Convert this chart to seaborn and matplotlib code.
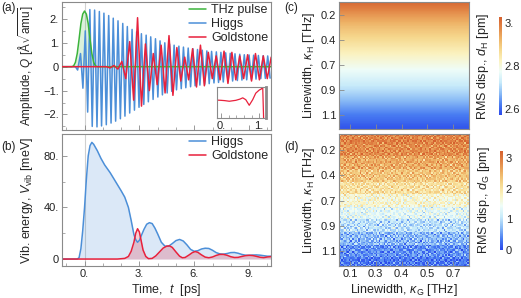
import numpy as np
import pandas as pd
import seaborn as sns
import matplotlib
matplotlib.use("Agg")
import matplotlib.pyplot as plt
from matplotlib.colors import LinearSegmentedColormap

# ---- (a) 振幅: 極値の時刻と値 ----
thz_t = [-1.3, -0.7, -0.6, -0.5, -0.4, -0.3, -0.2, -0.1, 0.0, 0.1, 0.2, 0.3, 0.4, 0.5, 0.6, 0.7, 10.3]
thz_q = [0, 0, 0.03, 0.18, 0.55, 1.15, 1.8, 2.2, 2.33, 2.2, 1.8, 1.15, 0.55, 0.18, 0.03, 0, 0]

higgs_t = [-1.3, -0.5, -0.38, -0.22,
           -0.09, 0.04, 0.17, 0.29, 0.42, 0.55, 0.68, 0.81, 0.93, 1.06,
           1.19, 1.32, 1.45, 1.57, 1.70, 1.83, 1.96, 2.09, 2.21, 2.34,
           2.47, 2.60, 2.73, 2.85, 2.98, 3.11, 3.24, 3.37, 3.49, 3.62,
           3.75, 3.88, 4.01, 4.13, 4.26, 4.39, 4.52, 4.65, 4.77, 4.90,
           5.03, 5.16, 5.29, 5.41, 5.54, 5.67, 5.80, 5.93, 6.05, 6.18,
           6.31, 6.44, 6.57, 6.69, 6.82, 6.95, 7.08, 7.21, 7.33, 7.46,
           7.59, 7.72, 7.85, 7.97, 8.10, 8.23, 8.36, 8.49, 8.61, 8.74,
           8.87, 9.00, 9.13, 9.25, 9.38, 9.51, 9.64, 9.77, 9.89, 10.02,
           10.15]
higgs_q = [0, 0, -0.14, 0.55,
           -0.9, 1.5, -1.9, 2.39, -2.5, 2.37, -2.52, 2.31, -2.48, 2.24,
           -2.43, 2.14, -2.36, 2.03, -2.28, 1.92, -2.18, 1.81, -2.07, 1.68,
           -1.94, 1.56, -1.82, 1.46, -1.70, 1.38, -1.58, 1.32, -1.47, 1.25,
           -1.37, 1.17, -1.27, 1.08, -1.18, 1.00, -1.10, 0.95, -1.03, 0.90,
           -0.97, 0.86, -0.92, 0.82, -0.88, 0.78, -0.84, 0.75, -0.80, 0.72,
           -0.77, 0.69, -0.74, 0.66, -0.71, 0.64, -0.68, 0.62, -0.66, 0.60,
           -0.64, 0.58, -0.62, 0.56, -0.60, 0.54, -0.58, 0.52, -0.56, 0.50,
           -0.55, 0.49, -0.53, 0.48, -0.52, 0.47, -0.50, 0.46, -0.49, 0.45,
           -0.48]

gold_t = [-1.3, 1.2,
          1.395, 1.61, 1.825, 2.04, 2.255, 2.47, 2.685, 2.90, 3.115, 3.33,
          3.545, 3.76, 3.975, 4.19, 4.405, 4.62, 4.835, 5.05, 5.265, 5.48,
          5.695, 5.91, 6.125, 6.34, 6.555, 6.77, 6.985, 7.2, 7.415, 7.63,
          7.845, 8.06, 8.275, 8.49, 8.705, 8.92, 9.135, 9.35, 9.565, 9.78,
          9.995, 10.21]
gold_q = [0, 0,
          -0.05, 0.05, -0.1, 0.22, -0.5, 1.05, -1.4, 2.05, -1.65, 0.95,
          -1.0, 0.55, -0.75, 0.9, -1.1, 1.3, -1.2, 0.8, -0.6, 0.4,
          -0.55, 0.75, -0.85, 0.9, -0.8, 0.6, -0.5, 0.45, -0.55, 0.65,
          -0.7, 0.6, -0.55, 0.45, -0.5, 0.5, -0.6, 0.55, -0.55, 0.45,
          -0.5, 0.4]

# インセット (初期のGoldstone)
ins_t = [-0.15, 0.0, 0.1, 0.22, 0.39, 0.5, 0.57, 0.65, 0.74, 0.83, 0.91, 1.0, 1.06, 1.09, 1.12, 1.2]
ins_v = [0.59, 0.58, 0.57, 0.55, 0.58, 0.62, 0.66, 0.6, 0.42, 0.6, 0.81, 0.91, 0.95, 1.1, -0.2, -0.2]

# ---- (b) 振動エネルギー [meV] ----
eh_t = [-1.3, -0.4, -0.3, -0.2, -0.1, 0.0, 0.1, 0.2, 0.3, 0.4, 0.5, 0.7, 0.9, 1.1,
        1.4, 1.7, 2.0, 2.2, 2.4, 2.55, 2.7, 2.8, 2.9, 3.0, 3.1, 3.25, 3.4, 3.55,
        3.7, 3.85, 4.0, 4.2, 4.4, 4.6, 4.8, 5.0, 5.2, 5.4, 5.6, 5.8, 6.0, 6.2,
        6.4, 6.6, 6.8, 7.0, 7.2, 7.4, 7.6, 7.8, 8.0, 8.2, 8.4, 8.6, 8.8, 9.0,
        9.2, 9.4, 9.6, 9.8, 10.0, 10.3]
eh_v = [0, 0, 1, 8, 22, 40, 62, 80, 88, 90.5, 89, 84, 78, 73,
        67, 60, 53, 48, 40, 30, 19, 15, 13, 14.5, 18, 23, 27, 28.2,
        27.5, 24, 19.5, 13, 10, 10, 12, 14.3, 15.2, 14, 11, 7.5, 6, 6.5,
        7.8, 8.4, 8.2, 6.8, 5, 4, 3.8, 4.3, 5, 5.1, 4.5, 3.6, 3, 2.9,
        3.1, 3.2, 3, 2.6, 2.2, 2.2]
eg_t = [-1.3, 1.8, 2.2, 2.4, 2.55, 2.7, 2.8, 2.9, 3.0, 3.1, 3.2, 3.35, 3.5, 3.7,
        3.9, 4.1, 4.3, 4.5, 4.65, 4.8, 5.0, 5.2, 5.35, 5.5, 5.7, 5.9, 6.05, 6.2,
        6.4, 6.6, 6.8, 7.0, 7.2, 7.4, 7.6, 7.8, 8.0, 8.2, 8.4, 8.6, 8.8, 9.0,
        9.2, 9.4, 9.6, 9.8, 10.0, 10.3]
eg_v = [0, 0, 0.5, 2, 6, 13, 20, 23.5, 21, 14, 7, 2, 0.3, 0.5,
        2.5, 5.5, 8.5, 10, 10.2, 9, 5.5, 2.2, 1, 1.2, 3, 5, 5.8, 5.2,
        3.2, 1.5, 1, 1.6, 2.8, 3.6, 3.6, 2.9, 1.8, 1.2, 1.3, 2, 2.6, 2.9,
        2.7, 2.1, 1.4, 1.1, 1.6, 2]

# ---- (c),(d) 線幅マップ ----
kappa_h_labels = ["0.2", "0.4", "0.7", "0.9", "1.1"]
kappa_g_labels = ["0.1", "0.3", "0.4", "0.5", "0.7"]
dh_rows = [3.02, 2.96, 2.91, 2.87, 2.83, 2.79, 2.75, 2.71, 2.665, 2.62, 2.585]
dg_rows = [2.9, 2.8, 2.55, 2.3, 2.0, 1.65, 1.3, 1.0, 0.7, 0.45, 0.3]
# 散らばり (手入力の揺らぎタイル, 単位0.08 pm)
dg_tile = [
    [1, -2, 3, 0, -1, 2, -3, 1, 4, -2, 0, 2, -1],
    [-3, 0, 2, -1, 3, -2, 1, -4, 0, 2, -1, 3, 1],
    [2, 4, -1, -3, 0, 1, 3, 2, -2, -1, 4, -3, 0],
    [-1, 1, -4, 2, 3, -1, 0, -2, 3, 1, -3, 0, 2],
    [0, -3, 1, 4, -2, 0, -1, 3, -1, -4, 2, 1, -2],
    [3, 2, -2, 0, 1, -4, 2, 0, 1, 3, -2, -1, 4],
    [-2, 0, 3, -3, 2, 3, -2, 1, -3, 0, 1, 4, -1],
    [1, -1, 0, 2, -4, 1, 4, -3, 2, -2, 3, -2, 0],
    [4, -2, 1, -1, 0, -3, 0, 2, 1, 4, -1, 0, -3],
    [-1, 3, -3, 1, 2, 2, -1, -2, 0, -3, 0, 2, 3],
    [0, 1, 2, -2, -3, 0, 3, -1, -4, 1, 2, -4, 1],
]

a_yticks = [-2, -1, 0, 1, 2]
a_yticklabels = ["\u22122.", "\u22121.", "0", "1.", "2."]
b_yticks = [0, 40, 80]
b_yticklabels = ["0", "40.", "80."]
b_xticks = [0, 3, 6, 9]
b_xticklabels = ["0.", "3.", "6.", "9."]
dh_cticks = [2.6, 2.8, 3.0]
dh_cticklabels = ["2.6", "2.8", "3."]
dg_cticks = [0, 1, 2, 3]
dg_cticklabels = ["0", "1", "2", "3"]

C_THZ = "#3cb43c"
C_HIGGS = "#4c8fd8"
C_GOLD = "#e8213c"
C_FRAME = "#8a8a8a"

temp_cmap = LinearSegmentedColormap.from_list(
    "temp", ["#2a48ea", "#4a7ef2", "#8bbcf6", "#c8ebfa", "#effdf8",
             "#fbf2bf", "#f6d88e", "#eeb266", "#e28646", "#d5602f"])

sns.set_theme(style="ticks")
plt.rcParams["font.family"] = ["Liberation Sans", "DejaVu Sans"]
plt.rcParams["mathtext.fontset"] = "custom"
plt.rcParams["mathtext.rm"] = "Liberation Sans"
plt.rcParams["mathtext.it"] = "Liberation Sans:italic"
plt.rcParams["mathtext.bf"] = "Liberation Sans:bold"

W, H = 521, 298
fig = plt.figure(figsize=(W / 100, H / 100), dpi=100)


def box(l, t, r, b):
    return [l / W, 1 - b / H, (r - l) / W, (b - t) / H]


def frame(ax):
    for s in ax.spines.values():
        s.set_color(C_FRAME)
        s.set_linewidth(0.8)
    ax.tick_params(which="major", direction="in", length=3.5, width=0.6,
                   color=C_FRAME, labelsize=8, labelcolor="#222222", pad=2)
    ax.tick_params(which="minor", direction="in", length=2, width=0.5, color=C_FRAME)
    ax.grid(False)


XLIM = (-1.25, 10.2)
LBL = 9

# ---- (a) ----
ax_a = fig.add_axes(box(61.7, 1.7, 271, 130))
ax_a.axvline(0, color="#d0d0d0", lw=0.8, zorder=0)
ax_a.fill_between(higgs_t, higgs_q, 0, color=C_HIGGS, alpha=0.25, lw=0)
ax_a.fill_between(thz_t, thz_q, 0, color=C_THZ, alpha=0.18, lw=0)
df_h = pd.DataFrame({"t": higgs_t, "q": higgs_q})
df_g = pd.DataFrame({"t": gold_t, "q": gold_q})
df_p = pd.DataFrame({"t": thz_t, "q": thz_q})
sns.lineplot(data=df_h, x="t", y="q", ax=ax_a, color=C_HIGGS, lw=1.1, label="Higgs", estimator=None, zorder=2)
sns.lineplot(data=df_p, x="t", y="q", ax=ax_a, color=C_THZ, lw=1.1, label="THz pulse", estimator=None, zorder=3)
sns.lineplot(data=df_g, x="t", y="q", ax=ax_a, color=C_GOLD, lw=1.1, label="Goldstone", estimator=None, zorder=4)
ax_a.set_xlim(*XLIM)
ax_a.set_ylim(-2.65, 2.72)
frame(ax_a)
ax_a.set_yticks(a_yticks)
ax_a.set_yticklabels(a_yticklabels)
ax_a.set_yticks([-2.5, -1.5, -0.5, 0.5, 1.5, 2.5], minor=True)
ax_a.set_xticks(b_xticks)
ax_a.set_xticks([-1, 1, 2, 4, 5, 7, 8, 10], minor=True)
ax_a.set_xticklabels([])
ax_a.set_xlabel("")
ax_a.set_ylabel(r"Amplitude, $Q$ [Å$\sqrt{\mathrm{amu}}$]", fontsize=8.5, labelpad=5)
hd, lb = ax_a.get_legend_handles_labels()
order = [lb.index("THz pulse"), lb.index("Higgs"), lb.index("Goldstone")]
ax_a.legend([hd[i] for i in order], [lb[i] for i in order], loc="upper right",
            frameon=False, fontsize=LBL, handlelength=1.4, handletextpad=0.4,
            labelspacing=0.15, borderaxespad=0.1, borderpad=0.1)

# inset
ax_in = fig.add_axes(box(216.7, 87.3, 265.7, 118.3))
ax_in.set_facecolor("white")
ax_in.plot(ins_t, ins_v, color=C_GOLD, lw=0.9)
ax_in.set_xlim(-0.11, 1.17)
ax_in.set_ylim(0, 1)
frame(ax_in)
ax_in.spines["right"].set_linewidth(2)
ax_in.set_xticks([0, 1])
ax_in.set_xticklabels(["0.", "1."])
ax_in.set_xticks([0.2, 0.4, 0.6, 0.8], minor=True)
ax_in.set_yticks([])
ax_in.tick_params(labelsize=8, pad=2)

# ---- (b) ----
ax_b = fig.add_axes(box(61.7, 134, 271, 266))
ax_b.axvline(0, color="#d0d0d0", lw=0.8, zorder=0)
ax_b.fill_between(eh_t, eh_v, 0, color=C_HIGGS, alpha=0.2, lw=0)
ax_b.fill_between(eg_t, eg_v, 0, color=C_GOLD, alpha=0.22, lw=0)
df_eh = pd.DataFrame({"t": eh_t, "v": eh_v})
df_eg = pd.DataFrame({"t": eg_t, "v": eg_v})
sns.lineplot(data=df_eh, x="t", y="v", ax=ax_b, color=C_HIGGS, lw=1.1, label="Higgs", estimator=None)
sns.lineplot(data=df_eg, x="t", y="v", ax=ax_b, color=C_GOLD, lw=1.1, label="Goldstone", estimator=None)
ax_b.set_xlim(*XLIM)
ax_b.set_ylim(-5.4, 97)
frame(ax_b)
ax_b.set_yticks(b_yticks)
ax_b.set_yticklabels(b_yticklabels)
ax_b.set_yticks([20, 60], minor=True)
ax_b.set_xticks(b_xticks)
ax_b.set_xticklabels(b_xticklabels)
ax_b.set_xticks([-1, 1, 2, 4, 5, 7, 8, 10], minor=True)
ax_b.set_xlabel(r"Time,  $t$  [ps]", fontsize=LBL, labelpad=2)
ax_b.set_ylabel(r"Vib. energy, $V_{\mathrm{vib}}$ [meV]", fontsize=LBL, labelpad=6)
ax_b.legend(loc="upper right", frameon=False, fontsize=LBL, handlelength=1.4,
            handletextpad=0.4, labelspacing=0.15, borderaxespad=0.1, borderpad=0.1)

# ---- (c) ----
ax_c = fig.add_axes(box(339, 1.7, 469, 129))
col = np.array(dh_rows)[:, None]
im_c = ax_c.imshow(col, cmap=temp_cmap, vmin=2.57, vmax=3.03, aspect="auto",
                   interpolation="bilinear", extent=(-0.6, 4.8, 4.75, -0.75))
ax_c.set_xlim(-0.43, 4.62)
ax_c.set_ylim(4.56, -0.53)
frame(ax_c)
ax_c.set_yticks(range(len(kappa_h_labels)))
ax_c.set_yticklabels(kappa_h_labels)
ax_c.set_xticks(range(len(kappa_g_labels)))
ax_c.set_xticklabels([])
ax_c.set_ylabel(r"Linewidth, $\kappa_{\mathrm{H}}$ [THz]", fontsize=LBL, labelpad=3)

cax_c = fig.add_axes(box(499, 16.7, 502, 115.3))
cb_c = fig.colorbar(im_c, cax=cax_c)
cb_c.outline.set_visible(False)
cb_c.set_ticks(dh_cticks)
cb_c.set_ticklabels(dh_cticklabels)
cax_c.tick_params(length=0, labelsize=8, pad=2)
cax_c.yaxis.set_label_position("left")
cax_c.set_ylabel(r"RMS disp., $d_{\mathrm{H}}$ [pm]", fontsize=LBL, labelpad=6)

# ---- (d) ----
ax_d = fig.add_axes(box(339, 134, 469, 266))
rep = 8
prof = np.repeat(np.array(dg_rows), rep)[:, None]
n = len(prof)
tile_a = np.array(dg_tile)
# タイルとその転置を重ねて周期を長くする
noise = np.tile(tile_a, (9, 7))[:n, :n] + np.tile(tile_a.T[::-1], (7, 9))[:n, :n]
grid = prof + noise * 0.08
im_d = ax_d.imshow(grid, cmap=temp_cmap, vmin=0, vmax=3.24, aspect="auto",
                   interpolation="nearest", extent=(-0.6, 4.8, 4.75, -0.75))
ax_d.set_xlim(-0.43, 4.62)
ax_d.set_ylim(4.59, -0.63)
frame(ax_d)
ax_d.set_yticks(range(len(kappa_h_labels)))
ax_d.set_yticklabels(kappa_h_labels)
ax_d.set_xticks(range(len(kappa_g_labels)))
ax_d.set_xticklabels(kappa_g_labels)
ax_d.set_ylabel(r"Linewidth, $\kappa_{\mathrm{H}}$ [THz]", fontsize=LBL, labelpad=3)
ax_d.set_xlabel(r"Linewidth, $\kappa_{\mathrm{G}}$ [THz]", fontsize=LBL, labelpad=2)

cax_d = fig.add_axes(box(500, 150.7, 503, 250))
cb_d = fig.colorbar(im_d, cax=cax_d)
cb_d.outline.set_visible(False)
cb_d.set_ticks(dg_cticks)
cb_d.set_ticklabels(dg_cticklabels)
cax_d.tick_params(length=0, labelsize=8, pad=2)
cax_d.yaxis.set_label_position("left")
cax_d.set_ylabel(r"RMS disp., $d_{\mathrm{G}}$ [pm]", fontsize=LBL, labelpad=6)

# パネル記号
for x, y, s in [(1, 8, "(a)"), (1, 147, "(b)"), (284, 8, "(c)"), (284, 147, "(d)")]:
    fig.text(x / W, 1 - y / H, s, fontsize=8.5, va="center", ha="left", color="#222222")

fig.savefig("out.png", dpi=100)
plt.close(fig)
